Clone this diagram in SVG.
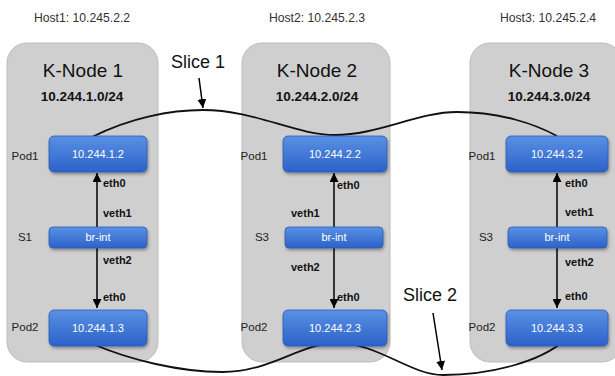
<svg xmlns="http://www.w3.org/2000/svg" width="615" height="376" viewBox="0 0 615 376">
<style>
text{font-family:"Liberation Sans",Arial,sans-serif}
.host{font-size:12.2px;fill:#333;text-anchor:middle}
.node{fill:#cfcfcf;stroke:#bdbdbd;stroke-width:1}
.title{font-size:19px;fill:#111;text-anchor:middle}
.subnet{font-size:13.5px;font-weight:bold;fill:#111;text-anchor:middle}
.pod{fill:url(#blue);stroke:#2b5bb5;stroke-width:0.8;filter:url(#sh)}
.ptxt{font-size:11px;fill:#fff;text-anchor:middle}
.lbl{font-size:11.5px;fill:#222;text-anchor:middle}
.if{font-size:11px;font-weight:bold;fill:#111}
.slice{font-size:18px;fill:#111;text-anchor:middle}
.ln{stroke:#000;stroke-width:1.5;fill:none}
.cv{stroke:#111;stroke-width:1.8;fill:none}
</style>
<defs>
<linearGradient id="blue" x1="0" y1="0" x2="0" y2="1">
<stop offset="0" stop-color="#5a90e4"/>
<stop offset="1" stop-color="#2c62c8"/>
</linearGradient>
<filter id="sh" x="-10%" y="-20%" width="125%" height="150%">
<feDropShadow dx="1" dy="2" stdDeviation="1.5" flood-color="#000" flood-opacity="0.35"/>
</filter>
<marker id="ah" viewBox="0 0 10 10" refX="10" refY="5" markerWidth="6" markerHeight="6" orient="auto">
<path d="M0,0 L10,5 L0,10 z" fill="#000"/>
</marker>
</defs>
<rect width="615" height="376" fill="#fff"/>

<text class="host" x="82" y="22">Host1: 10.245.2.2</text>
<text class="host" x="317" y="22">Host2: 10.245.2.3</text>
<text class="host" x="548" y="22">Host3: 10.245.2.4</text>

<g id="knode1">
<rect class="node" x="7" y="43" width="151" height="319" rx="20"/>
<text class="title" x="83" y="77">K-Node 1</text>
<text class="subnet" x="82" y="101">10.244.1.0/24</text>
</g>
<g id="knode2">
<rect class="node" x="242" y="43" width="148" height="319" rx="20"/>
<text class="title" x="317" y="77">K-Node 2</text>
<text class="subnet" x="317" y="101">10.244.2.0/24</text>
</g>
<g id="knode3">
<rect class="node" x="470" y="43" width="152" height="319" rx="20"/>
<text class="title" x="549" y="77">K-Node 3</text>
<text class="subnet" x="549" y="101">10.244.3.0/24</text>
</g>

<g id="connectors">
<line class="ln" x1="97" y1="227" x2="97" y2="173" marker-end="url(#ah)"/>
<line class="ln" x1="97" y1="248" x2="97" y2="308" marker-end="url(#ah)"/>
<line class="ln" x1="334" y1="227" x2="334" y2="173" marker-end="url(#ah)"/>
<line class="ln" x1="334" y1="248" x2="334" y2="308" marker-end="url(#ah)"/>
<line class="ln" x1="557" y1="227" x2="557" y2="173" marker-end="url(#ah)"/>
<line class="ln" x1="557" y1="248" x2="557" y2="308" marker-end="url(#ah)"/>
<path class="cv" d="M92,137 C130,118 170,110 203,110 C255,110 295,135 335,135 C378,135 418,112 457,112 C500,112 535,124 557,136"/>
<path class="cv" d="M93,344 C130,360 180,372 222,372 C272,372 300,343 337,343 C378,343 410,375 443,375 C490,375 540,362 565,340"/>
<line class="ln" x1="199" y1="78" x2="203" y2="108" marker-end="url(#ah)"/>
<line class="ln" x1="433" y1="313" x2="442" y2="370" marker-end="url(#ah)"/>
</g>

<text class="slice" x="198" y="68">Slice 1</text>
<text class="slice" x="430" y="301">Slice 2</text>

<g id="n1-pod1">
<rect class="pod" x="49" y="136" width="98" height="36" rx="5"/>
<text class="ptxt" x="98" y="158">10.244.1.2</text>
<text class="lbl" x="25" y="160">Pod1</text>
</g>
<g id="n1-brint">
<rect class="pod" x="49" y="227" width="98" height="21" rx="4"/>
<text class="ptxt" x="98" y="241">br-int</text>
<text class="lbl" x="25" y="241">S1</text>
</g>
<g id="n1-pod2">
<rect class="pod" x="49" y="310" width="98" height="36" rx="5"/>
<text class="ptxt" x="98" y="332">10.244.1.3</text>
<text class="lbl" x="25" y="331">Pod2</text>
</g>
<g id="n1-labels">
<text class="if" x="103" y="187">eth0</text>
<text class="if" x="103" y="217">veth1</text>
<text class="if" x="103" y="264">veth2</text>
<text class="if" x="103" y="301">eth0</text>
</g>

<g id="n2-pod1">
<rect class="pod" x="283" y="136" width="104" height="36" rx="5"/>
<text class="ptxt" x="335" y="158">10.244.2.2</text>
<text class="lbl" x="254" y="160">Pod1</text>
</g>
<g id="n2-brint">
<rect class="pod" x="285" y="227" width="98" height="21" rx="4"/>
<text class="ptxt" x="334" y="241">br-int</text>
<text class="lbl" x="262" y="241">S3</text>
</g>
<g id="n2-pod2">
<rect class="pod" x="283" y="310" width="104" height="36" rx="5"/>
<text class="ptxt" x="335" y="332">10.244.2.3</text>
<text class="lbl" x="254" y="331">Pod2</text>
</g>
<g id="n2-labels">
<text class="if" x="337" y="189">eth0</text>
<text class="if" x="291" y="217">veth1</text>
<text class="if" x="291" y="271">veth2</text>
<text class="if" x="337" y="301">eth0</text>
</g>

<g id="n3-pod1">
<rect class="pod" x="506" y="136" width="102" height="36" rx="5"/>
<text class="ptxt" x="557" y="158">10.244.3.2</text>
<text class="lbl" x="482" y="160">Pod1</text>
</g>
<g id="n3-brint">
<rect class="pod" x="508" y="227" width="99" height="21" rx="4"/>
<text class="ptxt" x="557" y="241">br-int</text>
<text class="lbl" x="486" y="241">S3</text>
</g>
<g id="n3-pod2">
<rect class="pod" x="506" y="310" width="102" height="36" rx="5"/>
<text class="ptxt" x="557" y="332">10.244.3.3</text>
<text class="lbl" x="482" y="331">Pod2</text>
</g>
<g id="n3-labels">
<text class="if" x="565" y="187">eth0</text>
<text class="if" x="565" y="216">veth1</text>
<text class="if" x="565" y="266">veth2</text>
<text class="if" x="565" y="300">eth0</text>
</g>
</svg>
